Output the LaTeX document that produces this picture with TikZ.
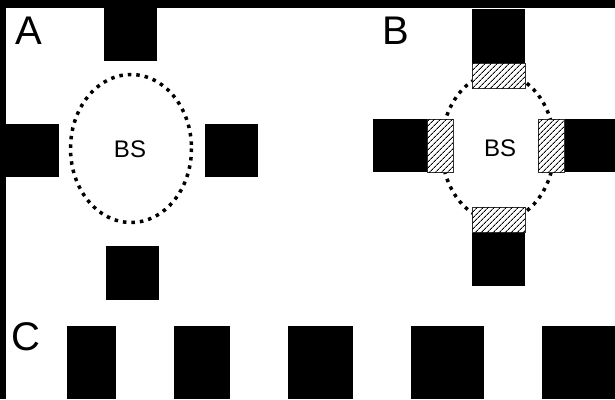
\documentclass[tikz,border=0pt]{standalone}
\usepackage{fontspec}
\setmainfont{Liberation Sans}
\usepackage{tikz}
\usetikzlibrary{patterns.meta}

\begin{document}
\begin{tikzpicture}[
    x=1pt, y=-1pt,
    block/.style={fill=black},
    hatched/.style={
        draw=black!80, line width=0.7pt,
        fill=white,
        postaction={pattern={Lines[angle=45, distance=4pt, line width=1pt]}}
    },
    ring/.style={
        draw=black, line width=3.5pt,
        dash pattern=on 3.5pt off 5pt
    },
    panel/.style={
        anchor=base, inner sep=0pt,
        font=\fontsize{40}{40}\selectfont
    },
    bslabel/.style={
        anchor=base, inner sep=0pt,
        font=\fontsize{24}{24}\selectfont
    }
]
\useasboundingbox (0,0) rectangle (615,399);

% frame of the cropped figure
\fill[black] (0,0) rectangle (615,399);
\fill[white] (6,7.5) rectangle (615,399);

% panel A
\draw[ring] (131,148.5) ellipse [x radius=60.5, y radius=74];
\fill[block] (104,7.5) rectangle (157,61);
\fill[block] (6,124) rectangle (59,177);
\fill[block] (205,124) rectangle (258,177);
\fill[block] (106,246) rectangle (159,300);
\node[bslabel] (bsA) at (130,157) {BS};
\node[panel] (labA) at (29,44) {A};

% panel B
\draw[ring] (498,147) ellipse [x radius=56.5, y radius=74];
\fill[block] (472,9) rectangle (525,63);
\draw[hatched] (472,63) rectangle (525,88);
\fill[block] (373,119) rectangle (427,172);
\draw[hatched] (427,119) rectangle (453,172);
\fill[block] (564,119) rectangle (615,172);
\draw[hatched] (538,119) rectangle (564,172);
\fill[block] (472,232) rectangle (525,286);
\draw[hatched] (472,207) rectangle (525,232);
\node[bslabel] (bsB) at (500,156) {BS};
\node[panel] (labB) at (396,44) {B};

% panel C
\foreach \xa/\xb in {67/116, 174/230, 288/353, 411/484, 542/620}
    \fill[block] (\xa,326) rectangle (\xb,399);
\node[panel] (labC) at (25.5,350) {C};

\end{tikzpicture}
\end{document}
